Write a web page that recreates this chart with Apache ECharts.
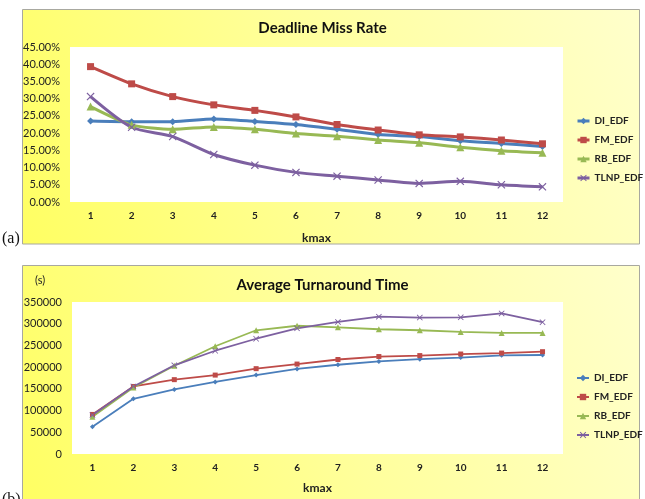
<!DOCTYPE html>
<html><head><meta charset="utf-8">
<script src="https://cdn.jsdelivr.net/npm/echarts@6/dist/echarts.min.js"></script>
<style>html,body{margin:0;padding:0;background:#fff;}#a{position:absolute;left:0;top:0;width:645px;height:250px;}#b{position:absolute;left:0;top:250px;width:645px;height:249px;}</style>
</head><body><div id="a"></div><div id="b"></div>
<script>
const categories = ['1','2','3','4','5','6','7','8','9','10','11','12'];
const seriesNames = ['DI_EDF','FM_EDF','RB_EDF','TLNP_EDF'];
// Deadline miss rate (%)
const missDI   = [23.5, 23.3, 23.3, 24.1, 23.4, 22.5, 21.1, 19.6, 19.0, 17.8, 17.0, 16.1];
const missFM   = [39.3, 34.3, 30.6, 28.2, 26.6, 24.7, 22.5, 20.9, 19.5, 18.9, 18.0, 16.9];
const missRB   = [27.7, 22.4, 21.1, 21.8, 21.1, 19.9, 19.1, 18.0, 17.2, 15.9, 14.9, 14.3];
const missTLNP = [30.6, 21.7, 19.0, 13.8, 10.7, 8.6, 7.5, 6.4, 5.4, 6.0, 5.0, 4.4];
// Average turnaround time (s)
const turnDI   = [62800, 127000, 148800, 166000, 181700, 195900, 205500, 213100, 218300, 222100, 227300, 228000];
const turnFM   = [91100, 155500, 171200, 181700, 196500, 207100, 217600, 224400, 226600, 230200, 232400, 235600];
const turnRB   = [85900, 153200, 203300, 248100, 284900, 295300, 291700, 287200, 284900, 281100, 278900, 278900];
const turnTLNP = [89700, 155500, 204200, 237800, 265400, 289400, 304200, 316300, 314100, 314800, 323700, 303500];

const colors = ['#4A7EBB','#BE4B48','#98B954','#7D60A0'];
const xPath = 'path://M0,1L1,0L5,4L9,0L10,1L6,5L10,9L9,10L5,6L1,10L0,9L4,5Z';
const symbols = ['diamond','rect','triangle', xPath];
const FONT = 'Lato';

function bgRect(y, h){
  return {type:'rect', z:-10, shape:{x:22.5, y:y, width:617, height:h},
    style:{fill:new echarts.graphic.LinearGradient(0,1,1,0,[{offset:0,color:'#FFFF62'},{offset:0.5,color:'#FFFF9C'},{offset:1,color:'#FFFFCC'}]), stroke:'#A8A8A0', lineWidth:1}};
}

function makeSeries(datas, lw, ss, smooth){
  return datas.map((d,i)=>({
    name: seriesNames[i], type:'line', data:d, color:colors[i],
    symbol: symbols[i], symbolSize: i===3 ? ss+1 : (i===2 ? ss+1 : ss),
    smooth: smooth, lineStyle:{width:lw, color:colors[i]},
    itemStyle:{color:colors[i]}, emphasis:{disabled:true}
  }));
}

function legendCfg(top, lw){
  return {orient:'vertical', left:571, top:top, itemWidth:12, itemHeight:8, itemGap:9,
    textStyle:{fontFamily:FONT, fontSize:10, fontWeight:'bold', color:'#222'},
    data: seriesNames.map((n,i)=>({name:n, lineStyle:{width:lw}}))};
}

function xAxisCfg(gap){
  return {type:'category', data:categories, boundaryGap:true,
    axisLine:{show:false}, axisTick:{show:false},
    axisLabel:{fontFamily:FONT, fontSize:10, fontWeight:'bold', color:'#222', margin:9},
    name:'kmax', nameLocation:'middle', nameGap:gap,
    nameTextStyle:{fontFamily:FONT, fontSize:12, fontWeight:'bold', color:'#222'}};
}

const ca = echarts.init(document.getElementById('a'), null, {renderer:'canvas'});
ca.setOption({
  animation:false,
  title:{text:'Deadline Miss Rate', left:'center', top:16, textStyle:{fontFamily:FONT, fontSize:15, fontWeight:'bold', color:'#111'}},
  graphic:[bgRect(9.5, 234.5),
    {type:'text', left:2, top:231, style:{text:'(a)', font:'16px "Liberation Serif"', fill:'#111'}}],
  legend: legendCfg(111, 3),
  grid:{left:70, right:82, top:47, bottom:48, show:true, backgroundColor:'#fff', borderWidth:0},
  xAxis: xAxisCfg(30),
  yAxis:{type:'value', min:0, max:45, interval:5, axisLine:{show:false}, axisTick:{show:false}, splitLine:{show:false},
    axisLabel:{fontFamily:FONT, fontSize:11, color:'#222', margin:10, formatter:v=>v.toFixed(2)+'%'}},
  series: makeSeries([missDI, missFM, missRB, missTLNP], 3, 7, 0.25)
});

const cb = echarts.init(document.getElementById('b'), null, {renderer:'canvas'});
cb.setOption({
  animation:false,
  title:{text:'Average Turnaround Time', left:'center', top:23, textStyle:{fontFamily:FONT, fontSize:15, fontWeight:'bold', color:'#111'}},
  graphic:[bgRect(15.5, 240),
    {type:'text', left:35, top:25, style:{text:'(s)', font:'11px Lato', fill:'#222'}},
    {type:'text', left:2, top:242, style:{text:'(b)', font:'16px "Liberation Serif"', fill:'#111'}}],
  legend: legendCfg(118, 2),
  grid:{left:72, right:82, top:52, bottom:41, show:true, backgroundColor:'#fff', borderWidth:0},
  xAxis: xAxisCfg(28),
  yAxis:{type:'value', min:0, max:350000, interval:50000, axisLine:{show:false}, axisTick:{show:false}, splitLine:{show:false},
    axisLabel:{fontFamily:FONT, fontSize:11, color:'#222', margin:10, formatter:v=>String(v)}},
  series: makeSeries([turnDI, turnFM, turnRB, turnTLNP], 1.8, 5, false)
});
</script></body></html>
